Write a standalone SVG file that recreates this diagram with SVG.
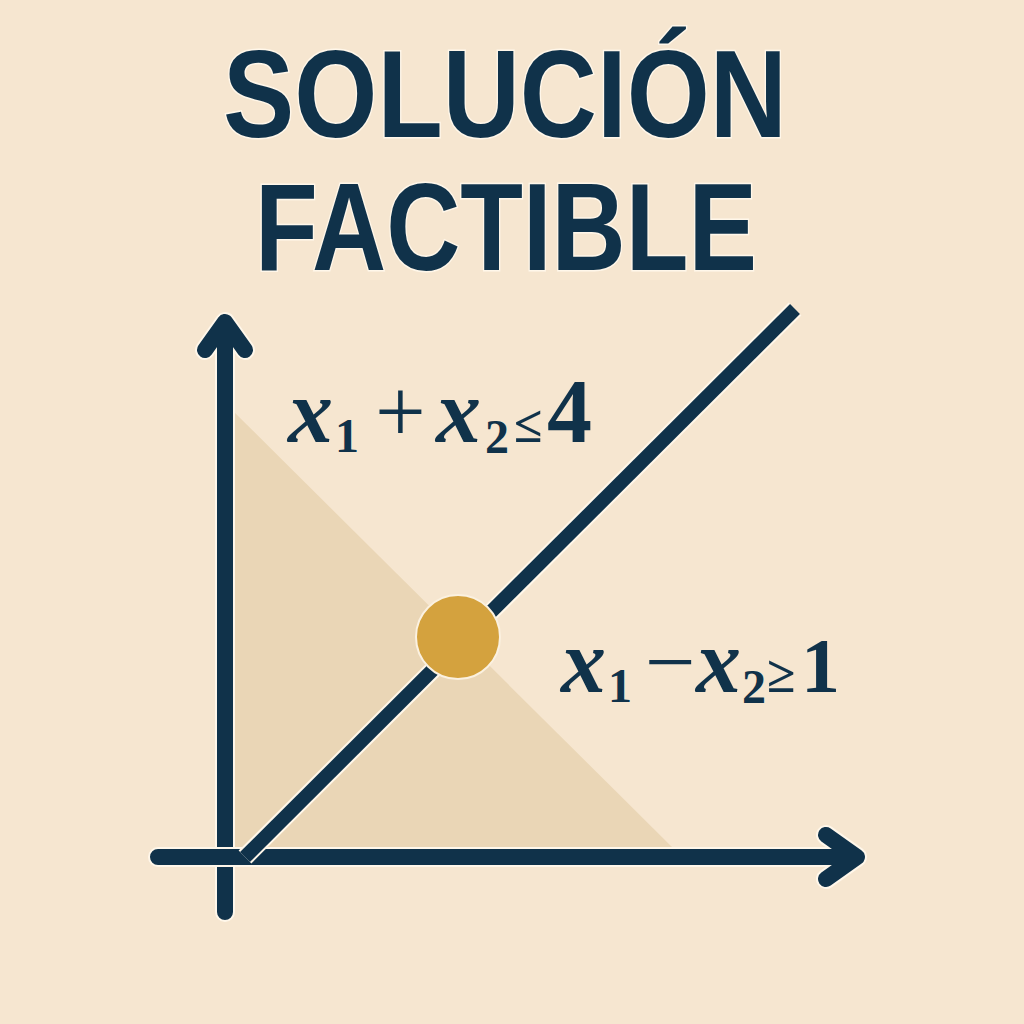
<svg xmlns="http://www.w3.org/2000/svg" width="1024" height="1024" viewBox="0 0 1024 1024">
  <style>
    .title { font-family: "Liberation Sans", Arial, sans-serif; font-weight: bold; font-size: 124px; fill: #10324A; stroke: #FFF7EA; stroke-width: 3; paint-order: stroke; }
    .m { font-family: "Liberation Serif", "DejaVu Serif", serif; fill: #10324A; font-size: 90px; }
    .v { font-style: italic; font-weight: bold; }
    .s { font-size: 48px; font-weight: bold; }
    .op { font-size: 52px; font-weight: bold; }
    .num { font-weight: bold; }
    .halo { fill: none; stroke: #FFF7EA; stroke-width: 20; stroke-linecap: round; stroke-linejoin: round; }
    .ink { fill: none; stroke: #10324A; stroke-width: 16; stroke-linecap: round; stroke-linejoin: round; }
  </style>
  <rect x="0" y="0" width="1024" height="1024" fill="#F6E6D0"/>

  <g id="title">
    <text class="title" x="223" y="137" textLength="564" lengthAdjust="spacingAndGlyphs">SOLUCIÓN</text>
    <text class="title" x="255" y="270" textLength="502" lengthAdjust="spacingAndGlyphs">FACTIBLE</text>
  </g>

  <g id="feasible-region">
    <polygon points="232,410 232,850 675,850" fill="#EAD6B6"/>
  </g>

  <g id="connectors">
    <g id="y-axis">
      <path class="halo" d="M225,912 V328 M205,350 L225,322 L245,350"/>
      <path class="ink" d="M225,912 V328 M205,350 L225,322 L245,350"/>
    </g>
    <g id="x-axis">
      <path class="halo" d="M158,857 H855 M826,835 L857,857 L826,879"/>
      <path class="ink" d="M158,857 H855 M826,835 L857,857 L826,879"/>
    </g>
    <g id="constraint-line">
      <line x1="245" y1="857" x2="795" y2="309" stroke="#FFF7EA" stroke-width="18"/>
      <line x1="245" y1="857" x2="795" y2="309" stroke="#10324A" stroke-width="14"/>
    </g>
  </g>

  <g id="solution-point">
    <circle cx="458" cy="637" r="42" fill="#D4A23E" stroke="#FBF1E0" stroke-width="2"/>
  </g>

  <g id="label-sum">
    <text class="m" y="442"><tspan class="v" x="288">x</tspan><tspan class="s" x="335" y="452">1</tspan><tspan x="375" y="442">+</tspan><tspan class="v" x="436">x</tspan><tspan class="s" x="485" y="453">2</tspan><tspan class="op" x="514" y="442">≤</tspan><tspan class="num" x="547" y="442">4</tspan></text>
  </g>

  <g id="label-diff">
    <text class="m" y="692"><tspan class="v" x="561">x</tspan><tspan class="s" x="608" y="702">1</tspan><tspan x="645" y="692">−</tspan><tspan class="v" x="696">x</tspan><tspan class="s" x="742" y="703">2</tspan><tspan class="op" x="767" y="692">≥</tspan><tspan class="num" x="801" y="692" font-size="78">1</tspan></text>
  </g>
</svg>
